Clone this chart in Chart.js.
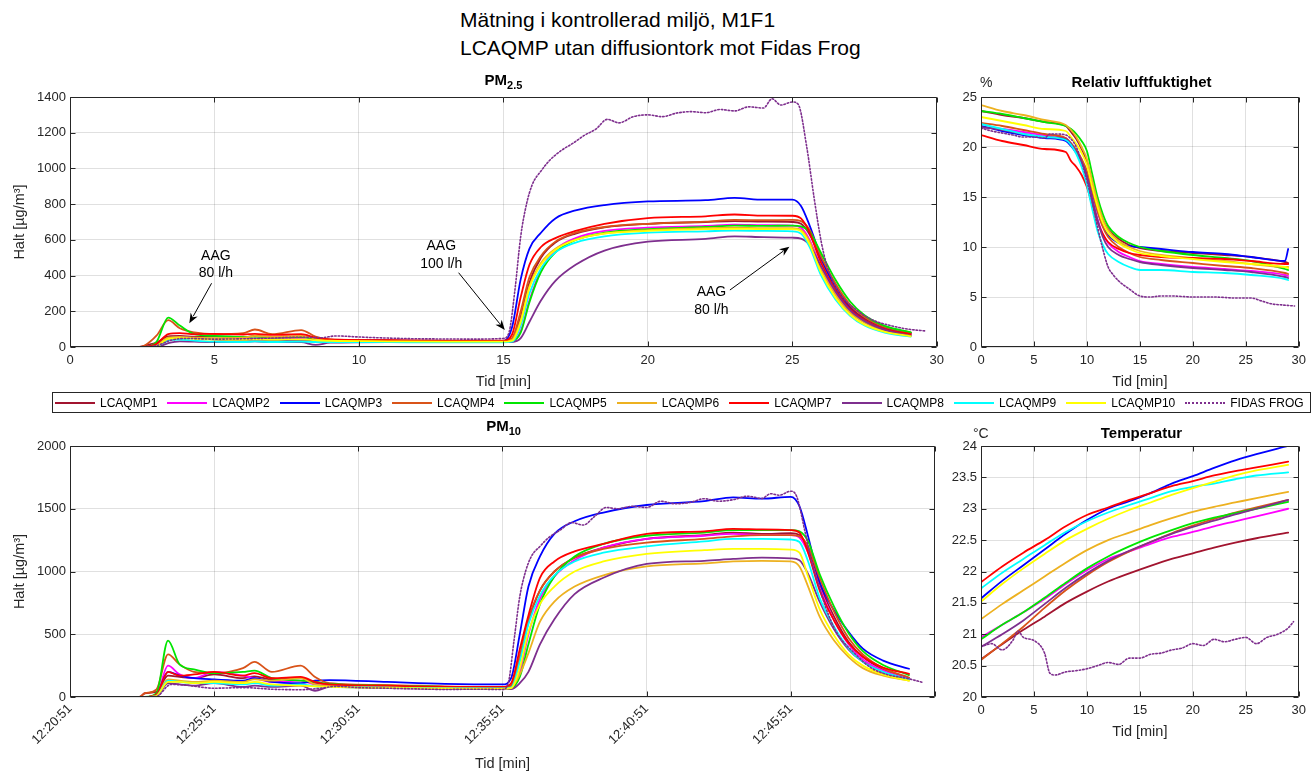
<!DOCTYPE html>
<html>
<head>
<meta charset="utf-8">
<script src="https://cdn.jsdelivr.net/npm/chart.js@4.4.1/dist/chart.umd.min.js"></script>
<style>
  body { margin: 0; background: #fff; font-family: Arial, "Liberation Sans", Helvetica, sans-serif; }
  #page { position: relative; width: 1312px; height: 774px; overflow: hidden; }
  canvas { position: absolute; }
  .txt { position: absolute; white-space: nowrap; color: #000; }
  .ptitle { position: absolute; text-align: center; font-weight: bold; font-size: 15px; line-height: 16px; color: #000; white-space: nowrap; }
  .ptitle sub { font-size: 11px; vertical-align: -4px; line-height: 0; }
  #mainTitle { left: 460px; top: 6px; font-size: 21px; line-height: 28px; }
  #legend { position: absolute; left: 52px; top: 392px; width: 1255px; height: 19px; border: 1px solid #262626;
            display: flex; align-items: center; padding-left: 2px; }
  .item { display: flex; align-items: center; margin-right: 10px; font-size: 12px; color: #000; white-space: nowrap; flex-shrink: 0; }
  .item .swatch { width: 40px; height: 0; border-top-width: 2px; }
  .item span { margin-left: 5px; }
</style>
</head>
<body>
<div id="page">
  <div id="mainTitle" class="txt">Mätning i kontrollerad miljö, M1F1<br>LCAQMP utan diffusiontork mot Fidas Frog</div>

  <canvas id="pm25" width="950" height="340" style="left:0;top:60px"></canvas>
  <canvas id="rh" width="362" height="340" style="left:950px;top:60px"></canvas>
  <canvas id="pm10" width="950" height="354" style="left:0;top:420px"></canvas>
  <canvas id="temp" width="362" height="330" style="left:950px;top:420px"></canvas>

  <div class="ptitle" style="left:70px;width:867px;top:72px">PM<sub>2.5</sub></div>
  <div class="ptitle" style="left:981px;width:321px;top:74px">Relativ luftfuktighet</div>
  <div class="txt" style="left:980px;top:74px;font-size:14px;line-height:16px;color:#262626">%</div>
  <div class="ptitle" style="left:70px;width:867px;top:418px">PM<sub>10</sub></div>
  <div class="ptitle" style="left:981px;width:321px;top:425px">Temperatur</div>
  <div class="txt" style="left:973px;top:425px;font-size:14px;line-height:16px;color:#262626">°C</div>

  <div id="legend"></div>
</div>

<script>
// ---- sensors ----
const sensorNames = ['LCAQMP1', 'LCAQMP2', 'LCAQMP3', 'LCAQMP4', 'LCAQMP5',
                     'LCAQMP6', 'LCAQMP7', 'LCAQMP8', 'LCAQMP9', 'LCAQMP10'];
const fidasName = 'FIDAS FROG';
const sensorColors = ['#A2142F', '#FF00FF', '#0000FF', '#D95319', '#00E600',
                      '#EDB120', '#FF0000', '#7E2F8E', '#00FFFF', '#FFFF00'];
const fidasColor = '#7E2F8E';

// ---- PM time base (minutes) ----
const pmTime = [0, 2.4, 2.6, 3.0, 3.4, 3.8, 4.3, 5, 6, 6.4, 7, 8, 8.5, 9, 11, 13, 15,
                15.3, 15.6, 15.9, 16.3, 16.8, 17.5, 18.5, 20, 22, 23, 24, 25,
                25.3, 25.6, 26, 26.5, 27, 27.5, 28.2, 29.1];
const fidasTime = [0, 2.5, 3.0, 3.5, 4, 5, 6, 7, 8, 8.7, 9.2, 10, 11, 12, 13, 14, 15,
                   15.2, 15.4, 15.6, 15.8, 16, 16.3, 16.6, 17, 17.4, 17.8, 18.2, 18.6, 19,
                   19.5, 20, 20.5, 21, 21.5, 22, 22.5, 23, 23.5, 24, 24.3, 24.6, 25,
                   25.2, 25.5, 25.75, 26, 26.2, 26.6, 27.2, 27.8, 28.4, 29, 29.6];

// ---- PM2.5 [µg/m3] ----
const pm25_1  = [0, 0, 8, 25, 60, 62, 58, 60, 55, 62, 56, 60, 46, 40, 36, 33, 33, 45, 170, 360, 500, 585, 635, 670, 690, 700, 705, 702, 700, 690, 630, 490, 340, 225, 160, 110, 80];
const pm25_2  = [0, 0, 0, 10, 42, 55, 50, 46, 42, 48, 44, 46, 38, 35, 32, 30, 30, 32, 90, 260, 430, 545, 610, 650, 668, 678, 685, 682, 680, 668, 600, 445, 300, 200, 142, 96, 68];
const pm25_3  = [0, 0, 0, 12, 48, 55, 50, 42, 40, 41, 38, 39, 38, 38, 35, 33, 32, 110, 380, 550, 640, 720, 765, 795, 815, 822, 835, 825, 825, 790, 680, 500, 330, 215, 150, 100, 74];
const pm25_4  = [0, 0, 10, 65, 150, 105, 82, 72, 78, 98, 72, 95, 58, 42, 37, 34, 34, 50, 200, 390, 510, 590, 640, 672, 690, 702, 712, 710, 712, 705, 655, 505, 355, 238, 168, 112, 80];
const pm25_5  = [0, 0, 0, 30, 165, 120, 72, 62, 56, 58, 53, 56, 46, 38, 34, 32, 32, 34, 80, 250, 420, 530, 600, 640, 660, 672, 680, 678, 680, 676, 645, 525, 375, 255, 178, 118, 82];
const pm25_6  = [0, 0, 0, 10, 52, 56, 52, 50, 52, 62, 56, 62, 46, 38, 34, 32, 32, 40, 150, 340, 470, 550, 602, 636, 655, 665, 668, 665, 665, 655, 590, 430, 290, 192, 136, 92, 66];
const pm25_7  = [0, 0, 0, 18, 72, 78, 72, 74, 70, 74, 68, 72, 52, 42, 38, 36, 36, 70, 280, 460, 560, 610, 650, 690, 722, 732, 742, 736, 735, 720, 640, 470, 320, 212, 150, 100, 72];
const pm25_8  = [0, 0, 0, 0, 22, 32, 30, 28, 30, 31, 28, 27, 12, 24, 28, 27, 27, 28, 50, 140, 260, 370, 460, 540, 590, 605, 620, 615, 612, 607, 570, 450, 310, 205, 145, 96, 62];
const pm25_9  = [0, 0, 0, 5, 36, 42, 36, 30, 28, 31, 28, 30, 28, 28, 27, 26, 26, 30, 120, 300, 440, 530, 585, 620, 640, 648, 652, 650, 648, 635, 560, 400, 265, 175, 120, 80, 58];
const pm25_10 = [0, 0, 0, 5, 46, 50, 46, 42, 40, 43, 40, 42, 38, 35, 32, 30, 30, 35, 140, 330, 460, 545, 600, 635, 650, 660, 662, 660, 660, 648, 575, 415, 275, 180, 125, 85, 60];
const pm25Fidas = [0, 0, 8, 38, 48, 44, 46, 50, 55, 52, 62, 56, 50, 46, 45, 44, 48, 85, 320, 620,
                   800, 910, 985, 1045, 1100, 1140, 1185, 1220, 1275, 1255, 1290, 1300, 1290, 1310, 1318,
                   1312, 1330, 1322, 1345, 1338, 1390, 1355, 1372, 1360, 1120, 840, 590, 455, 310, 210,
                   150, 120, 100, 90];

// ---- PM10 [µg/m3] ----
const pm10_1  = [0, 0, 30, 40, 170, 160, 150, 180, 150, 165, 140, 150, 110, 100, 90, 80, 80, 90, 300, 600, 850, 1000, 1110, 1190, 1260, 1290, 1310, 1300, 1305, 1290, 1180, 900, 640, 440, 320, 220, 150];
const pm10_2  = [0, 0, 0, 20, 250, 180, 150, 200, 170, 150, 120, 130, 100, 95, 85, 78, 75, 80, 200, 500, 780, 960, 1090, 1190, 1260, 1285, 1300, 1290, 1290, 1270, 1150, 870, 610, 420, 300, 210, 145];
const pm10_3  = [0, 0, 0, 20, 200, 170, 150, 140, 130, 150, 120, 110, 130, 135, 120, 105, 100, 150, 500, 880, 1120, 1300, 1400, 1470, 1530, 1560, 1590, 1580, 1595, 1520, 1280, 920, 690, 520, 385, 290, 225];
const pm10_4  = [0, 0, 30, 60, 340, 260, 200, 190, 230, 280, 200, 250, 160, 110, 95, 85, 80, 90, 330, 620, 850, 1000, 1110, 1180, 1230, 1260, 1280, 1290, 1290, 1280, 1200, 950, 680, 470, 340, 230, 155];
const pm10_5  = [0, 0, 0, 30, 450, 260, 220, 190, 200, 210, 150, 130, 120, 105, 90, 80, 75, 75, 160, 420, 740, 960, 1120, 1220, 1285, 1310, 1330, 1330, 1330, 1320, 1240, 980, 720, 510, 365, 255, 175];
const pm10_6  = [0, 0, 0, 15, 140, 130, 120, 130, 120, 140, 130, 150, 100, 90, 80, 72, 70, 75, 180, 350, 600, 760, 880, 970, 1040, 1065, 1080, 1085, 1080, 1040, 880, 640, 450, 320, 230, 170, 130];
const pm10_7  = [0, 0, 0, 20, 200, 170, 180, 200, 170, 190, 150, 160, 120, 100, 90, 80, 80, 110, 380, 650, 950, 1080, 1160, 1220, 1300, 1320, 1340, 1335, 1330, 1310, 1150, 850, 610, 430, 320, 235, 185];
const pm10_8  = [0, 0, 0, 5, 110, 100, 90, 110, 80, 90, 80, 90, 50, 80, 70, 65, 62, 62, 110, 200, 420, 620, 820, 950, 1060, 1085, 1100, 1110, 1105, 1090, 980, 760, 540, 380, 280, 195, 140];
const pm10_9  = [0, 0, 0, 10, 130, 120, 110, 110, 100, 110, 90, 100, 85, 80, 75, 70, 68, 75, 280, 580, 810, 970, 1080, 1150, 1200, 1240, 1260, 1260, 1255, 1235, 1080, 790, 560, 390, 280, 200, 140];
const pm10_10 = [0, 0, 0, 10, 120, 120, 110, 120, 110, 120, 100, 90, 85, 80, 72, 68, 65, 70, 230, 520, 740, 880, 1000, 1080, 1140, 1170, 1180, 1180, 1175, 1150, 960, 700, 490, 340, 250, 180, 130];
const pm10Fidas = [0, 0, 5, 100, 95, 70, 75, 62, 58, 70, 85, 75, 70, 65, 60, 62, 60, 110, 450, 800,
                   1000, 1120, 1200, 1270, 1330, 1390, 1370, 1440, 1510, 1500, 1520, 1510, 1560, 1540, 1550,
                   1580, 1560, 1572, 1600, 1582, 1620, 1608, 1640, 1600, 1310, 1050, 870, 720, 510, 350,
                   230, 175, 150, 115];
const pm10TickLabels = ['12:20:51', '12:25:51', '12:30:51', '12:35:51', '12:40:51', '12:45:51'];

// ---- relative humidity [%] ----
const rhTime = [0, 2, 4, 6, 8, 8.5, 9, 9.5, 10, 10.5, 11, 11.5, 12, 13, 14, 15, 17, 20, 23, 25.5, 28.7, 29];
const rh_1  = [23.6, 23.2, 22.9, 22.5, 22.1, 21.5, 20.8, 19.8, 18.5, 16.5, 14.5, 12.8, 11.8, 10.8, 10.2, 9.9, 9.6, 9.4, 9.2, 9.0, 8.5, 8.4];
const rh_2  = [22.0, 21.8, 21.5, 21.2, 20.9, 20.3, 19.5, 18.5, 17.0, 14.8, 12.8, 11.3, 10.4, 9.5, 9.0, 8.6, 8.3, 8.0, 7.8, 7.6, 7.2, 7.1];
const rh_3  = [22.1, 21.6, 21.2, 20.9, 20.6, 20.1, 19.4, 18.6, 17.4, 15.5, 13.6, 12.1, 11.2, 10.4, 10.1, 10.0, 9.8, 9.5, 9.3, 9.0, 8.6, 9.8];
const rh_4  = [22.4, 22.1, 21.7, 21.3, 20.9, 20.4, 19.7, 18.8, 17.6, 15.6, 13.6, 12.0, 11.0, 10.0, 9.4, 9.0, 8.7, 8.4, 8.1, 7.9, 7.4, 7.3];
const rh_5  = [23.6, 23.3, 22.9, 22.5, 22.1, 21.8, 21.3, 20.6, 19.6, 17.3, 15.0, 13.3, 12.1, 11.0, 10.4, 10.0, 9.6, 9.2, 8.9, 8.6, 7.8, 7.7];
const rh_6  = [24.2, 23.6, 23.2, 22.7, 22.2, 21.7, 21.0, 20.0, 18.8, 16.6, 14.5, 12.8, 11.7, 10.6, 10.0, 9.6, 9.2, 8.9, 8.6, 8.3, 8.0, 8.0];
const rh_7  = [21.2, 20.6, 20.2, 19.8, 19.5, 18.6, 18.0, 17.2, 16.0, 14.2, 12.5, 11.3, 10.5, 9.8, 9.4, 9.2, 9.0, 8.9, 8.8, 8.6, 8.3, 8.3];
const rh_8  = [22.0, 21.7, 21.3, 21.0, 20.8, 20.3, 19.5, 18.5, 17.0, 14.8, 12.7, 11.0, 10.0, 9.2, 8.8, 8.5, 8.2, 7.9, 7.7, 7.5, 7.0, 6.9];
const rh_9  = [22.3, 21.8, 21.3, 21.0, 20.7, 20.2, 19.3, 18.0, 16.2, 13.8, 11.6, 10.2, 9.3, 8.5, 8.0, 7.7, 7.7, 7.5, 7.4, 7.2, 6.8, 6.7];
const rh_10 = [23.0, 22.6, 22.2, 21.8, 21.6, 21.0, 20.3, 19.4, 18.2, 16.0, 14.0, 12.4, 11.4, 10.4, 9.8, 9.4, 9.1, 8.8, 8.5, 8.3, 8.0, 7.9];
const rhFidasTime = [0, 1, 2, 3, 4, 5, 6, 6.5, 7, 8, 8.5, 9, 9.5, 10, 10.5, 11, 11.5, 12, 12.5, 13,
                     14, 15, 16, 17, 18, 20, 22, 24, 25.5, 26.5, 27.5, 28.5, 29.6];
const rhFidas = [21.9, 21.6, 21.4, 21.2, 21.0, 21.0, 20.9, 21.3, 21.3, 21.2, 20.8, 20.0, 18.5, 16.6, 14.5, 12.0, 9.8, 8.0, 7.2, 6.6,
                 5.8, 5.1, 5.0, 5.1, 5.1, 5.0, 5.0, 4.9, 4.9, 4.6, 4.3, 4.2, 4.1];

// ---- temperature [°C] ----
const tempTime = [0, 2, 4, 6, 8, 10, 12, 14, 16, 18, 20, 22, 24, 26, 29];
const temp_1  = [20.6, 20.84, 21.07, 21.28, 21.5, 21.68, 21.84, 21.97, 22.09, 22.2, 22.29, 22.38, 22.46, 22.53, 22.62];
const temp_2  = [20.95, 21.15, 21.35, 21.56, 21.8, 22.02, 22.2, 22.32, 22.44, 22.55, 22.63, 22.72, 22.8, 22.88, 23.0];
const temp_3  = [21.57, 21.85, 22.1, 22.35, 22.6, 22.82, 23.0, 23.12, 23.25, 23.4, 23.52, 23.65, 23.77, 23.87, 24.0];
const temp_4  = [20.59, 20.85, 21.12, 21.42, 21.7, 21.94, 22.15, 22.32, 22.47, 22.61, 22.73, 22.84, 22.94, 23.02, 23.14];
const temp_5  = [20.92, 21.15, 21.35, 21.58, 21.82, 22.05, 22.24, 22.4, 22.54, 22.66, 22.77, 22.86, 22.93, 23.0, 23.11];
const temp_6  = [21.24, 21.48, 21.7, 21.92, 22.14, 22.34, 22.5, 22.62, 22.74, 22.85, 22.95, 23.03, 23.1, 23.17, 23.27];
const temp_7  = [21.83, 22.08, 22.3, 22.5, 22.72, 22.9, 23.02, 23.14, 23.25, 23.36, 23.44, 23.53, 23.6, 23.66, 23.75];
const temp_8  = [20.8, 21.0, 21.22, 21.48, 21.74, 21.97, 22.17, 22.33, 22.47, 22.6, 22.71, 22.81, 22.91, 23.0, 23.14];
const temp_9  = [21.73, 21.98, 22.2, 22.42, 22.63, 22.8, 22.94, 23.06, 23.17, 23.28, 23.35, 23.4, 23.47, 23.53, 23.58];
const temp_10 = [21.52, 21.8, 22.05, 22.28, 22.5, 22.68, 22.84, 22.98, 23.1, 23.22, 23.33, 23.43, 23.53, 23.61, 23.7];
const tempFidasTime = [0, 1, 2, 3, 3.5, 4, 5, 6, 6.5, 7, 8, 9, 10, 11, 12, 13, 14, 15, 16, 17,
                       18, 19, 20, 21, 22, 23, 24, 25, 26, 27, 28, 29, 29.5];
const tempFidas = [20.8, 20.85, 20.75, 20.9, 21.05, 20.95, 20.9, 20.7, 20.38, 20.35, 20.4, 20.42, 20.45, 20.5, 20.55, 20.52, 20.62, 20.62, 20.68, 20.7,
                   20.75, 20.78, 20.85, 20.82, 20.92, 20.88, 20.92, 20.95, 20.85, 20.95, 21.0, 21.1, 21.2];

// arrows with text on the PM2.5 panel (data units)
const aagNotes = [
  { text: ['AAG', '80 l/h'],  at: [5.05, 510, 415],  from: [4.9, 357],   to: [4.13, 133] },
  { text: ['AAG', '100 l/h'], at: [12.85, 563, 464], from: [13.45, 416], to: [15.05, 95] },
  { text: ['AAG', '80 l/h'],  at: [22.2, 308, 207],  from: [22.84, 319], to: [24.9, 562] }
];

Chart.defaults.font.family = 'Arial, "Liberation Sans", Helvetica, sans-serif';
Chart.defaults.font.size = 13;
Chart.defaults.color = '#262626';

const axisColor = '#262626';
const gridColor = 'rgba(38,38,38,0.14)';
const titleFont = { size: 14.5 };

// axes box with short inward ticks on all four sides
const framePlugin = {
  id: 'frame',
  afterDraw(chart) {
    const { ctx, chartArea: a, scales } = chart;
    const L = Math.round(a.left) + 0.5, R = Math.round(a.right) - 0.5;
    const T = Math.round(a.top) + 0.5, B = Math.round(a.bottom) - 0.5;
    ctx.save();
    ctx.strokeStyle = axisColor;
    ctx.lineWidth = 1;
    ctx.beginPath();
    scales.x.ticks.forEach(t => {
      const px = Math.round(scales.x.getPixelForValue(t.value)) + 0.5;
      ctx.moveTo(px, B); ctx.lineTo(px, B - 5);
      ctx.moveTo(px, T); ctx.lineTo(px, T + 5);
    });
    scales.y.ticks.forEach(t => {
      const py = Math.round(scales.y.getPixelForValue(t.value)) + 0.5;
      ctx.moveTo(L, py); ctx.lineTo(L + 5, py);
      ctx.moveTo(R, py); ctx.lineTo(R - 5, py);
    });
    ctx.moveTo(L, T); ctx.lineTo(R, T); ctx.lineTo(R, B); ctx.lineTo(L, B); ctx.closePath();
    ctx.stroke();
    ctx.restore();
  }
};

const notePlugin = {
  id: 'aagNotes',
  afterDatasetsDraw(chart) {
    const { ctx, scales: { x, y } } = chart;
    ctx.save();
    ctx.fillStyle = '#000';
    ctx.strokeStyle = '#000';
    ctx.lineWidth = 1;
    ctx.font = '14px Arial, "Liberation Sans", sans-serif';
    ctx.textAlign = 'center';
    ctx.textBaseline = 'middle';
    aagNotes.forEach(n => {
      ctx.fillText(n.text[0], x.getPixelForValue(n.at[0]), y.getPixelForValue(n.at[1]));
      ctx.fillText(n.text[1], x.getPixelForValue(n.at[0]), y.getPixelForValue(n.at[2]));
      const x0 = x.getPixelForValue(n.from[0]), y0 = y.getPixelForValue(n.from[1]);
      const x1 = x.getPixelForValue(n.to[0]), y1 = y.getPixelForValue(n.to[1]);
      const ang = Math.atan2(y1 - y0, x1 - x0);
      const head = 10, half = 4;
      ctx.beginPath();
      ctx.moveTo(x0, y0);
      ctx.lineTo(x1 - Math.cos(ang) * head * 0.8, y1 - Math.sin(ang) * head * 0.8);
      ctx.stroke();
      ctx.beginPath();
      ctx.moveTo(x1, y1);
      ctx.lineTo(x1 - Math.cos(ang) * head - Math.sin(ang) * half, y1 - Math.sin(ang) * head + Math.cos(ang) * half);
      ctx.lineTo(x1 - Math.cos(ang) * head * 0.7, y1 - Math.sin(ang) * head * 0.7);
      ctx.lineTo(x1 - Math.cos(ang) * head + Math.sin(ang) * half, y1 - Math.sin(ang) * head - Math.cos(ang) * half);
      ctx.closePath();
      ctx.fill();
    });
    ctx.restore();
  }
};

function buildDatasets(times, series, fTimes, fValues) {
  const sets = series.map((vals, i) => ({
    label: sensorNames[i],
    data: vals.map((v, k) => ({ x: times[k], y: v })),
    borderColor: sensorColors[i],
    borderWidth: 1.8,
    order: -i
  }));
  sets.push({
    label: fidasName,
    data: fValues.map((v, k) => ({ x: fTimes[k], y: v })),
    borderColor: fidasColor,
    borderWidth: 1.6,
    borderDash: [1.5, 2],
    order: -10
  });
  return sets;
}

function makeChart(id, datasets, cfg) {
  return new Chart(document.getElementById(id), {
    type: 'line',
    data: { datasets },
    options: {
      responsive: false,
      animation: false,
      devicePixelRatio: 1,
      layout: { padding: cfg.padding },
      elements: {
        point: { radius: 0 },
        line: { cubicInterpolationMode: 'monotone', fill: false, borderCapStyle: 'round' }
      },
      plugins: { legend: { display: false }, tooltip: { enabled: false } },
      scales: {
        x: {
          type: 'linear', min: 0, max: 30,
          grid: { color: gridColor, drawTicks: false },
          border: { display: false },
          ticks: {
            stepSize: 5, padding: cfg.xPad, autoSkip: false,
            maxRotation: cfg.rotate || 0, minRotation: cfg.rotate || 0,
            callback: cfg.xLabel || (v => String(v))
          },
          title: { display: true, text: 'Tid [min]', font: titleFont, padding: { top: 0, bottom: cfg.xTitlePad } },
          afterFit: s => { s.height = cfg.xHeight; }
        },
        y: {
          min: cfg.yMin, max: cfg.yMax,
          grid: { color: gridColor, drawTicks: false },
          border: { display: false },
          ticks: { stepSize: cfg.yStep, padding: 4, callback: v => String(v) },
          title: cfg.yTitle
            ? { display: true, text: cfg.yTitle, font: titleFont, padding: { top: 11, bottom: 0 } }
            : { display: false },
          afterFit: s => { s.width = cfg.yWidth; }
        }
      }
    },
    plugins: cfg.notes ? [framePlugin, notePlugin] : [framePlugin]
  });
}

makeChart('pm25',
  buildDatasets(pmTime, [pm25_1, pm25_2, pm25_3, pm25_4, pm25_5, pm25_6, pm25_7, pm25_8, pm25_9, pm25_10], fidasTime, pm25Fidas),
  { padding: { left: 0, right: 13, top: 37, bottom: 0 }, yMin: 0, yMax: 1400, yStep: 200,
    yWidth: 70, xHeight: 53, xPad: 6, xTitlePad: 9, yTitle: 'Halt [µg/m³]', notes: true });

makeChart('rh',
  buildDatasets(rhTime, [rh_1, rh_2, rh_3, rh_4, rh_5, rh_6, rh_7, rh_8, rh_9, rh_10], rhFidasTime, rhFidas),
  { padding: { left: 0, right: 10, top: 37, bottom: 0 }, yMin: 0, yMax: 25, yStep: 5,
    yWidth: 31, xHeight: 53, xPad: 6, xTitlePad: 9 });

makeChart('pm10',
  buildDatasets(pmTime, [pm10_1, pm10_2, pm10_3, pm10_4, pm10_5, pm10_6, pm10_7, pm10_8, pm10_9, pm10_10], fidasTime, pm10Fidas),
  { padding: { left: 0, right: 13, top: 26, bottom: 0 }, yMin: 0, yMax: 2000, yStep: 500,
    yWidth: 70, xHeight: 77, xPad: 4, xTitlePad: 1, rotate: 45, yTitle: 'Halt [µg/m³]',
    xLabel: v => (v / 5 < pm10TickLabels.length ? pm10TickLabels[v / 5] : '') });

makeChart('temp',
  buildDatasets(tempTime, [temp_1, temp_2, temp_3, temp_4, temp_5, temp_6, temp_7, temp_8, temp_9, temp_10], tempFidasTime, tempFidas),
  { padding: { left: 0, right: 10, top: 26, bottom: 0 }, yMin: 20, yMax: 24, yStep: 0.5,
    yWidth: 31, xHeight: 53, xPad: 6, xTitlePad: 9 });

// shared legend row
const legend = document.getElementById('legend');
sensorNames.concat([fidasName]).forEach((name, i) => {
  const item = document.createElement('div');
  item.className = 'item';
  const sw = document.createElement('div');
  sw.className = 'swatch';
  sw.style.borderTopStyle = i < sensorNames.length ? 'solid' : 'dotted';
  sw.style.borderTopColor = i < sensorNames.length ? sensorColors[i] : fidasColor;
  const label = document.createElement('span');
  label.textContent = name;
  item.appendChild(sw);
  item.appendChild(label);
  legend.appendChild(item);
});
</script>
</body>
</html>
